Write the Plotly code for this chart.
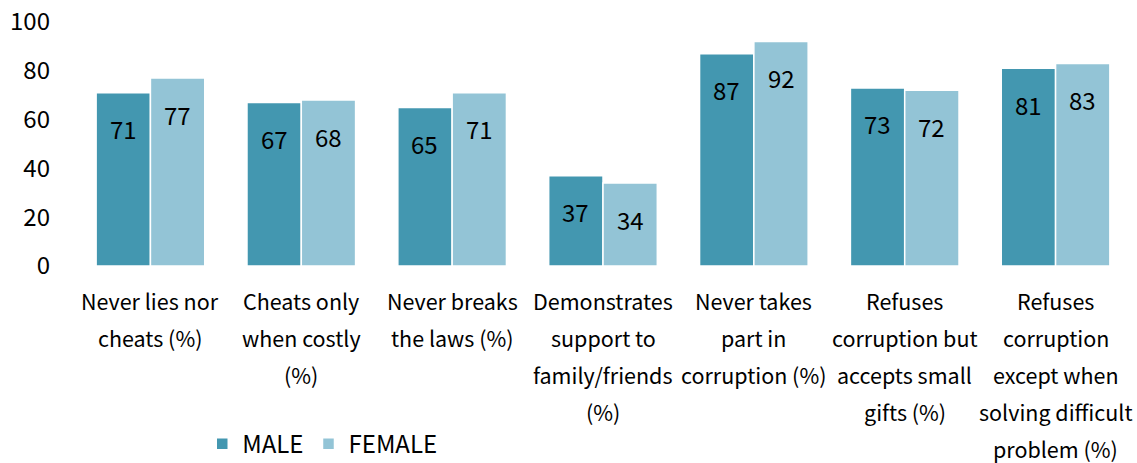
import plotly.graph_objects as go

categories = [
    "Never lies nor<br>cheats (%)",
    "Cheats only<br>when costly<br>(%)",
    "Never breaks<br>the laws (%)",
    "Demonstrates<br>support to<br>family/friends<br>(%)",
    "Never takes<br>part in<br>corruption (%)",
    "Refuses<br>corruption but<br>accepts small<br>gifts (%)",
    "Refuses<br>corruption<br>except when<br>solving difficult<br>problem (%)",
]
male = [71, 67, 65, 37, 87, 73, 81]
female = [77, 68, 71, 34, 92, 72, 83]
y_ticks = [0, 20, 40, 60, 80, 100]

FONT = "Noto Sans CJK KR"
MALE_COLOR = "#4397b0"
FEMALE_COLOR = "#93c4d6"
BARGAP = 0.28

x_idx = list(range(len(categories)))
half = (1 - BARGAP) / 4  # centre offset of each bar in a pair

fig = go.Figure()
for name, vals, color, side in [("MALE", male, MALE_COLOR, -1), ("FEMALE", female, FEMALE_COLOR, 1)]:
    fig.add_trace(go.Bar(
        x=x_idx,
        y=vals,
        name=name,
        marker=dict(color=color, line=dict(color="white", width=1.5)),
    ))
    # value labels sit a bit below the bar top, like excel's "inside end"
    for i, v in zip(x_idx, vals):
        fig.add_annotation(
            x=i + side * half, y=v, xref="x", yref="y",
            text=str(v), showarrow=False, yshift=-36,
            font=dict(family=FONT, size=24, color="black"),
        )

# category labels, one annotation per line to get the wide line spacing
for i, label in enumerate(categories):
    for j, line in enumerate(label.split("<br>")):
        fig.add_annotation(
            x=i, y=0, xref="x", yref="y",
            text=line, showarrow=False,
            yshift=-34 - 37 * j,
            font=dict(family=FONT, size=21.5, color="black"),
        )

fig.update_layout(
    width=1137,
    height=463,
    margin=dict(l=75, r=6, t=22, b=197, autoexpand=False),
    plot_bgcolor="white",
    paper_bgcolor="white",
    barmode="group",
    bargap=BARGAP,
    bargroupgap=0.0,
    font=dict(family=FONT, size=24, color="black"),
    legend=dict(
        orientation="h",
        x=0.1205, y=-0.73,
        xanchor="left", yanchor="middle",
        font=dict(family=FONT, size=24, color="black"),
        itemwidth=30,
    ),
    xaxis=dict(
        tickvals=x_idx,
        showticklabels=False,
        showgrid=False,
        zeroline=False,
        showline=False,
        automargin=False,
        range=[-0.5, len(categories) - 0.5],
    ),
    yaxis=dict(
        range=[0, 100],
        tickvals=y_ticks,
        showgrid=False,
        zeroline=False,
        showline=False,
        automargin=False,
        ticks="",
        ticklabelstandoff=24,
        tickfont=dict(family=FONT, size=24, color="black"),
    ),
)

fig.write_html(
    "out.html",
    config={"displayModeBar": False},
    post_script="document.body.style.margin='0';",
)
